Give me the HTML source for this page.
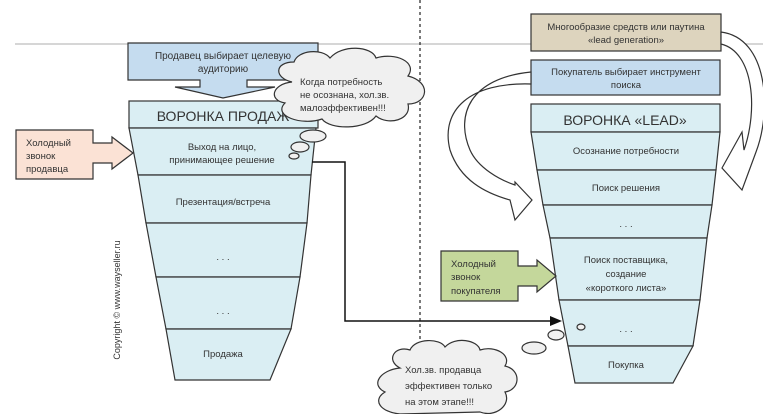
<!DOCTYPE html>
<html><head><meta charset="utf-8"><style>
body{margin:0;background:#fff;width:763px;height:414px;overflow:hidden}
svg{display:block}
text{font-family:"Liberation Sans","DejaVu Sans",sans-serif;fill:#333}
</style></head><body>
<svg width="763" height="414" viewBox="0 0 763 414">
<line x1="15" y1="44" x2="763" y2="44" stroke="#c8c8c8" stroke-width="1.5"/>
<line x1="420" y1="0" x2="420" y2="350" stroke="#222" stroke-width="1.2" stroke-dasharray="3,3"/>

<path d="M128,43 H318 V80 H247 V87 H275 L223,98 L175,87 H200 V80 H128 Z" fill="#c5dcef" stroke="#333" stroke-width="1.2"/>
<text x="223" y="59" font-size="10" text-anchor="middle">Продавец выбирает целевую</text>
<text x="223" y="72" font-size="10" text-anchor="middle">аудиторию</text>

<rect x="129" y="101" width="189" height="27" fill="#daeef3" stroke="#333" stroke-width="1.2"/>
<text x="223" y="121" font-size="14" text-anchor="middle">ВОРОНКА ПРОДАЖ</text>
<g fill="#daeef3" stroke="#333" stroke-width="1.2">
<polygon points="129,128 316,128 311,175 138,175"/>
<polygon points="138,175 311,175 307,223 146,223"/>
<polygon points="146,223 307,223 300,277 156,277"/>
<polygon points="156,277 300,277 291,329 166,329"/>
<polygon points="166,329 291,329 270,380 175,380"/>
</g>
<text x="222" y="150" font-size="9.5" text-anchor="middle">Выход на лицо,</text>
<text x="222" y="163" font-size="9.5" text-anchor="middle">принимающее решение</text>
<text x="223" y="205" font-size="9.5" text-anchor="middle">Презентация/встреча</text>
<text x="223" y="260" font-size="9.5" text-anchor="middle">. . .</text>
<text x="223" y="314" font-size="9.5" text-anchor="middle">. . .</text>
<text x="223" y="357" font-size="9.5" text-anchor="middle">Продажа</text>

<path d="M16,130 H93 V143 H112 V137 L133,153 L112,169 V163 H93 V179 H16 Z" fill="#fbe2d5" stroke="#333" stroke-width="1.2"/>
<text x="26" y="146" font-size="9.5">Холодный</text>
<text x="26" y="159" font-size="9.5">звонок</text>
<text x="26" y="172" font-size="9.5">продавца</text>

<polyline points="312,162 345,162 345,321 552,321" fill="none" stroke="#111" stroke-width="1.5"/>
<polygon points="562,321 550,316 550,326" fill="#111"/>

<text transform="translate(120,300) rotate(-90)" font-size="9" text-anchor="middle">Copyright © www.wayseller.ru</text>

<!-- cloud 1 -->
<g fill="#f0f0f0" stroke="#333" stroke-width="1.2">
<path d="M292,82 C274,78 274,62 294,62 C298,50 322,48 330,58 C342,44 372,46 376,58 C395,52 418,62 408,76 C432,82 428,104 408,104 C412,120 388,126 376,116 C366,130 330,130 322,119 C302,126 272,116 285,103 C268,100 272,84 292,82 Z"/>
<ellipse cx="313" cy="136" rx="13" ry="6"/>
<ellipse cx="300" cy="147" rx="9" ry="5"/>
<ellipse cx="294" cy="156" rx="5" ry="3"/>
</g>
<text x="300" y="85" font-size="9.5">Когда потребность</text>
<text x="300" y="98" font-size="9.5">не осознана, хол.зв.</text>
<text x="300" y="111" font-size="9.5">малоэффективен!!!</text>

<rect x="531" y="14" width="190" height="37" fill="#ddd4be" stroke="#333" stroke-width="1.2"/>
<text x="626" y="30" font-size="9.5" text-anchor="middle">Многообразие средств или паутина</text>
<text x="626" y="43" font-size="9.5" text-anchor="middle">«lead generation»</text>
<rect x="531" y="60" width="189" height="35" fill="#c5dcef" stroke="#333" stroke-width="1.2"/>
<text x="626" y="75" font-size="9.5" text-anchor="middle">Покупатель выбирает инструмент</text>
<text x="626" y="88" font-size="9.5" text-anchor="middle">поиска</text>

<path d="M531,72 C470,78 455,115 470,150 C478,168 500,180 515,185 L515,182 L532,200 L515,220 L510,200 C485,193 460,180 450,150 C440,110 470,82 531,84 Z" fill="#fff" stroke="#333" stroke-width="1.2"/>
<path d="M721,32 C768,38 772,110 756,152 L742,190 L722,168 L742,132 L744,150 C758,110 754,52 721,44 Z" fill="#fff" stroke="#333" stroke-width="1.2"/>

<rect x="531" y="104" width="189" height="28" fill="#daeef3" stroke="#333" stroke-width="1.2"/>
<text x="625" y="125" font-size="14" text-anchor="middle">ВОРОНКА «LEAD»</text>
<g fill="#daeef3" stroke="#333" stroke-width="1.2">
<polygon points="531,132 720,132 716,170 537,170"/>
<polygon points="537,170 716,170 712,205 543,205"/>
<polygon points="543,205 712,205 707,238 550,238"/>
<polygon points="550,238 707,238 700,300 559,300"/>
<polygon points="559,300 700,300 693,346 568,346"/>
<polygon points="568,346 693,346 673,383 575,383"/>
</g>
<text x="626" y="154" font-size="9.5" text-anchor="middle">Осознание потребности</text>
<text x="626" y="191" font-size="9.5" text-anchor="middle">Поиск решения</text>
<text x="626" y="227" font-size="9.5" text-anchor="middle">. . .</text>
<text x="626" y="263" font-size="9.5" text-anchor="middle">Поиск поставщика,</text>
<text x="626" y="277" font-size="9.5" text-anchor="middle">создание</text>
<text x="626" y="291" font-size="9.5" text-anchor="middle">«короткого листа»</text>
<text x="626" y="332" font-size="9.5" text-anchor="middle">. . .</text>
<text x="626" y="368" font-size="9.5" text-anchor="middle">Покупка</text>

<path d="M441,251 H518 V266 H537 V260 L556,276 L537,292 V286 H518 V301 H441 Z" fill="#c4d79b" stroke="#333" stroke-width="1.2"/>
<text x="451" y="267" font-size="9.5">Холодный</text>
<text x="451" y="280" font-size="9.5">звонок</text>
<text x="451" y="294" font-size="9.5">покупателя</text>

<g fill="#f0f0f0" stroke="#333" stroke-width="1.2">
<path d="M400,368 C385,360 395,345 410,350 C415,338 440,338 445,347 C455,336 478,340 480,350 C495,345 512,355 505,366 C522,370 520,390 505,392 C512,405 495,418 480,412 L400,414 C380,412 372,400 385,392 C370,385 380,370 400,368 Z"/>
<ellipse cx="534" cy="348" rx="12" ry="6"/>
<ellipse cx="556" cy="335" rx="8" ry="5"/>
<ellipse cx="581" cy="327" rx="4" ry="3"/>
</g>
<text x="405" y="373" font-size="9.5">Хол.зв. продавца</text>
<text x="405" y="389" font-size="9.5">эффективен только</text>
<text x="405" y="405" font-size="9.5">на этом этапе!!!</text>
</svg>
</body></html>
